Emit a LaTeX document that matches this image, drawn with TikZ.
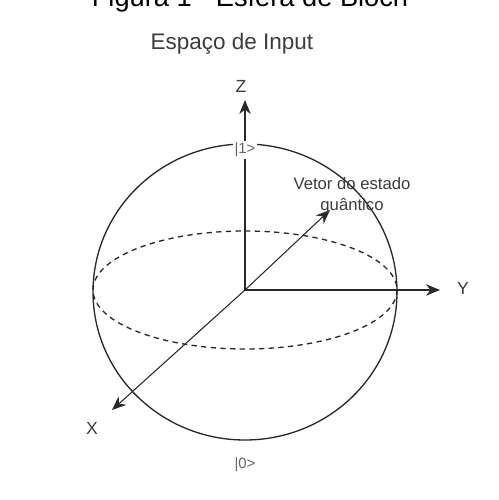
\documentclass[tikz,border=0pt]{standalone}
\usepackage{fontspec}
\setmainfont{Liberation Sans}
\usetikzlibrary{arrows.meta}
\definecolor{axisgray}{RGB}{40, 40, 40}
\definecolor{textgray}{RGB}{60, 60, 60}
\definecolor{ketgray}{RGB}{100, 100, 100}
\tikzset{
  axis/.style={draw=axisgray, line width=0.8pt, -{Stealth[length=8pt, width=6.5pt]}},
  axislabel/.style={text=textgray, font=\fontsize{10}{11}\selectfont, inner sep=0pt},
  ket/.style={text=ketgray, fill=white, font=\fontsize{8.5}{9}\selectfont, inner sep=1pt},
}
\begin{document}
\begin{tikzpicture}[x=0.02cm, y=-0.02cm]
  \useasboundingbox (0,0) rectangle (499,500);
  % titulo (cortado em cima)
  \node[anchor=base, font=\fontsize{15.5}{16}\selectfont] (titulo) at (250,7) {Figura 1 - Esfera de Bloch};
  \node[text=textgray, font=\fontsize{12.8}{14}\selectfont] (espaco) at (232,44) {Espaço de Input};
  % esfera
  \draw[axisgray, line width=0.75pt] (245,292) ellipse [x radius=152, y radius=148];
  \draw[axisgray, line width=0.75pt, dash pattern=on 3pt off 2.5pt] (245,290) ellipse [x radius=152, y radius=59];
  % eixos
  \coordinate (o) at (245,290);
  \coordinate (zt) at (245,100);
  \coordinate (yt) at (440,290);
  \coordinate (xt) at (112,410);
  \coordinate (vt) at (330,210);
  \draw[axis] (o) -- (zt);
  \draw[axis] (o) -- (yt);
  \draw[axis, line width=0.6pt] (o) -- (xt);
  \draw[axis, line width=0.6pt] (o) -- (vt);
  \node[axislabel] (z) at (241,86) {Z};
  \node[axislabel] (y) at (463,288) {Y};
  \node[axislabel] (x) at (92,428) {X};
  \node[ket] (um) at (245,150) {|1>};
  \node[ket, fill=none] (zero) at (245,465) {|0>};
  \node[text=textgray, align=center, font=\fontsize{9.5}{12}\selectfont, inner sep=0pt] (vetor) at (352,196) {Vetor do estado\\quântico};
\end{tikzpicture}
\end{document}
